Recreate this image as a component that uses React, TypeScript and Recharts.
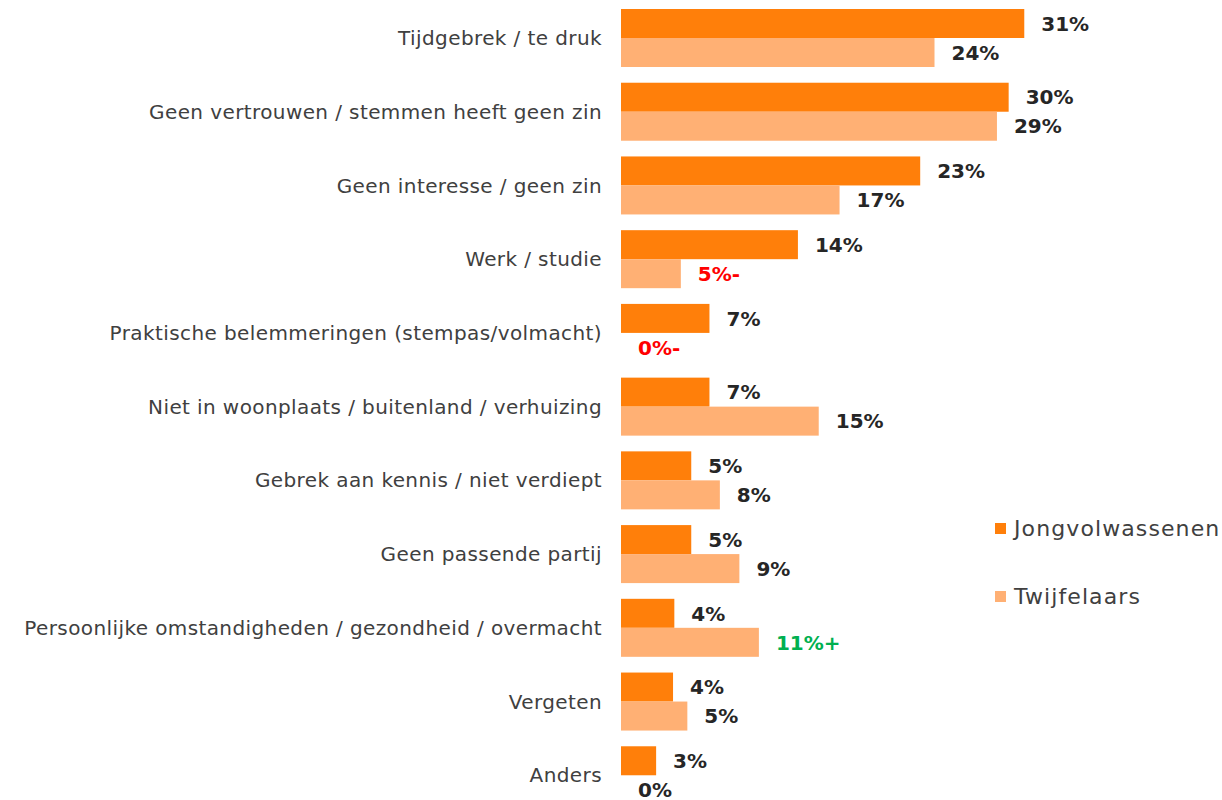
import React from "react"
import { BarChart, Bar, XAxis, YAxis } from "recharts"

const categories = [
  "Tijdgebrek / te druk",
  "Geen vertrouwen / stemmen heeft geen zin",
  "Geen interesse / geen zin",
  "Werk / studie",
  "Praktische belemmeringen (stempas/volmacht)",
  "Niet in woonplaats / buitenland / verhuizing",
  "Gebrek aan kennis / niet verdiept",
  "Geen passende partij",
  "Persoonlijke omstandigheden / gezondheid / overmacht",
  "Vergeten",
  "Anders",
]
// bar lengths (labels show rounded values)
const jongvolwassenen = [31.0, 29.8, 23.0, 13.6, 6.8, 6.8, 5.4, 5.4, 4.1, 4.0, 2.7]
const twijfelaars = [24.1, 28.9, 16.8, 4.6, 0, 15.2, 7.6, 9.1, 10.6, 5.1, 0]
// significance markers for Twijfelaars vs Jongvolwassenen
const twijfelMarks = ["", "", "", "-", "-", "", "", "", "+", "", ""]

const DARK = "#FF7F0A"
const LIGHT = "#FFB074"
const FONT = "'DejaVu Sans', sans-serif"

const data = categories.map((name, i) => ({
  name,
  jong: jongvolwassenen[i],
  twijfel: twijfelaars[i],
  mark: twijfelMarks[i],
}))

const markColor = (m: string) => (m === "-" ? "#FF0000" : m === "+" ? "#00B050" : "#262626")

// bar + value label drawn together so zero-length bars still get their label
const barWithLabel = (key: "jong" | "twijfel", fill: string) => (props: any) => {
  const { x, y, width, height, payload } = props
  const val = Math.round(payload[key])
  const mark = key === "twijfel" ? payload.mark : ""
  const w = Math.max(0, width || 0)
  return (
    <g>
      {w > 0 && <rect x={x} y={y} width={w} height={height} fill={fill} />}
      <text
        x={x + w + 17}
        y={y + height / 2}
        dy="0.36em"
        fill={markColor(mark)}
        fontFamily={FONT}
        fontWeight="bold"
        fontSize={20}
      >
        {val}%{mark}
      </text>
    </g>
  )
}

const CategoryTick = (props: any) => {
  const { y, payload } = props
  return (
    <text
      x={602}
      y={y}
      dy="0.36em"
      textAnchor="end"
      fill="#404040"
      fontFamily={FONT}
      fontSize={20}
      letterSpacing={0.4}
    >
      {payload.value}
    </text>
  )
}

const LegendBox = () => (
  <div
    style={{
      position: "absolute",
      left: 995,
      top: 513,
      fontFamily: FONT,
      fontSize: 22,
      letterSpacing: 1.1,
      color: "#404040",
    }}
  >
    {[
      { label: "Jongvolwassenen", color: DARK },
      { label: "Twijfelaars", color: LIGHT },
    ].map((it, i) => (
      <div key={it.label} style={{ display: "flex", alignItems: "center", height: 30, marginBottom: i === 0 ? 38 : 0 }}>
        <span style={{ width: 11, height: 11, background: it.color, marginRight: 8, display: "inline-block" }} />
        <span>{it.label}</span>
      </div>
    ))}
  </div>
)

export default function App() {
  return (
    <div style={{ position: "fixed", left: 0, top: 0, width: 1222, height: 800, overflow: "hidden", background: "#fff" }}>
      <BarChart
        width={1222}
        height={812}
        data={data}
        layout="vertical"
        margin={{ top: 1, right: 0, bottom: 0, left: 0 }}
        barSize={29}
        barGap={0}
      >
        <XAxis type="number" domain={[0, 46.2]} hide />
        <YAxis
          type="category"
          dataKey="name"
          width={621}
          axisLine={false}
          tickLine={false}
          interval={0}
          tick={<CategoryTick />}
        />
        <Bar dataKey="jong" fill={DARK} isAnimationActive={false} shape={barWithLabel("jong", DARK)} />
        <Bar dataKey="twijfel" fill={LIGHT} isAnimationActive={false} shape={barWithLabel("twijfel", LIGHT)} />
      </BarChart>
      <LegendBox />
    </div>
  )
}
